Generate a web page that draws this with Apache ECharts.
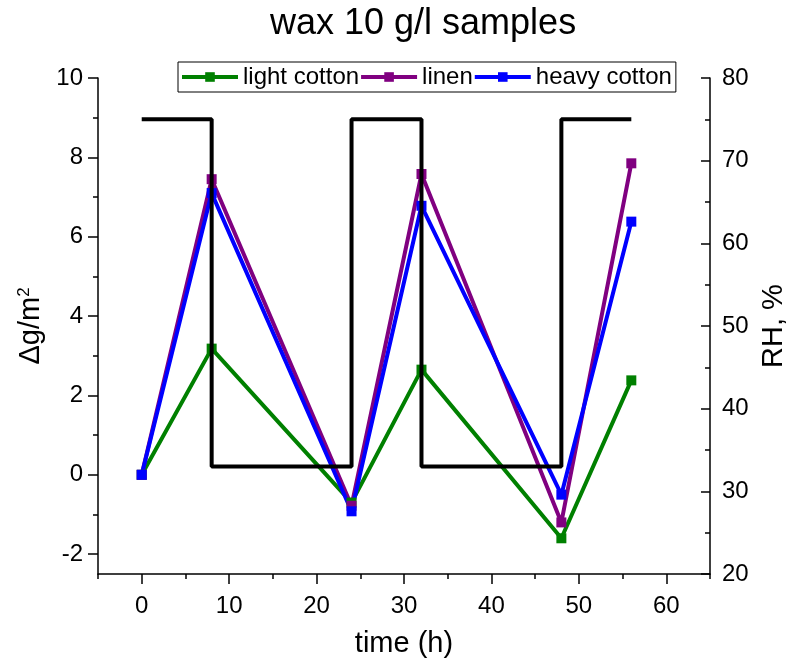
<!DOCTYPE html>
<html><head><meta charset="utf-8">
<script src="https://cdn.jsdelivr.net/npm/echarts@6/dist/echarts.min.js"></script>
<style>html,body{margin:0;padding:0;background:#fff}#c{width:788px;height:664px}</style>
</head><body><div id="c"></div>
<script>
const times = [0, 8, 24, 32, 48, 56];
const lightCotton = [0, 3.18, -0.7, 2.65, -1.6, 2.38];
const linen = [0, 7.45, -0.78, 7.58, -1.2, 7.85];
const heavyCotton = [0, 7.1, -0.92, 6.78, -0.5, 6.38];
const rhTimes = [0, 8, 24, 32, 48, 56];
const rhValues = [75, 33, 75, 33, 75, 75];
const xMajorTicks = [0, 10, 20, 30, 40, 50, 60];
const xMinorTicks = [-5, 5, 15, 25, 35, 45, 55, 65];
const yLeftMajor = [-2, 0, 2, 4, 6, 8, 10];
const yLeftMinor = [-1, 1, 3, 5, 7, 9];

const FONT = 'Liberation Sans, Arial, sans-serif';
const pair = (xs, ys) => xs.map((x, i) => [x, ys[i]]);
const chart = echarts.init(document.getElementById('c'));
const axisLine = { show: true, onZero: false, lineStyle: { color: '#000', width: 1.5 } };
const noLine = { show: false, onZero: false };
const tickStyle = { color: '#000', width: 1.5 };
const lineSeries = (name, data, color) => ({
  name, type: 'line', data: pair(times, data), xAxisIndex: 0, yAxisIndex: 0,
  symbol: 'rect', symbolSize: 10,
  lineStyle: { color, width: 4 }, itemStyle: { color },
  animation: false
});
chart.setOption({
  backgroundColor: '#fff',
  textStyle: { fontFamily: FONT },
  title: {
    text: 'wax 10 g/l samples', left: 270, top: 6, padding: 0,
    textStyle: { fontFamily: FONT, fontSize: 36, fontWeight: 'normal', color: '#000' }
  },
  legend: {
    data: ['light cotton', 'linen', 'heavy cotton'],
    left: 178, top: 62, itemWidth: 56, itemHeight: 12, itemGap: 0,
    lineStyle: { width: 4 },
    borderColor: '#000', borderWidth: 1, padding: [3, 4, 3, 2],
    textStyle: { fontFamily: FONT, fontSize: 24, color: '#000' }
  },
  grid: { left: 98, right: 78, top: 78, bottom: 90, outerBoundsMode: 'none', containLabel: false },
  xAxis: [
    {
      type: 'value', position: 'bottom', min: -5, max: 65,
      name: 'time (h)', nameLocation: 'middle', nameGap: 55,
      nameTextStyle: { fontFamily: FONT, fontSize: 29, color: '#000' },
      axisLine, splitLine: { show: false },
      axisTick: { show: true, length: 10, lineStyle: tickStyle, customValues: xMajorTicks },
      axisLabel: { customValues: xMajorTicks, margin: 20, fontFamily: FONT, fontSize: 24, color: '#000' }
    },
    {
      type: 'value', position: 'bottom', min: -5, max: 65,
      axisLine: noLine, splitLine: { show: false },
      axisTick: { show: true, length: 5, lineStyle: tickStyle, customValues: xMinorTicks },
      axisLabel: { show: false }
    }
  ],
  yAxis: [
    {
      type: 'value', position: 'left', min: -2.5, max: 10,
      name: 'Δg/m{sup|2}', nameLocation: 'middle', nameGap: 46, nameRotate: 90,
      nameTextStyle: { fontFamily: FONT, fontSize: 29, color: '#000',
        rich: { sup: { fontFamily: FONT, fontSize: 17, color: '#000', verticalAlign: 'top', padding: [0, 0, 14, 0] } } },
      axisLine, splitLine: { show: false },
      axisTick: { show: true, length: 10, lineStyle: tickStyle, customValues: yLeftMajor },
      axisLabel: { customValues: yLeftMajor, margin: 15, fontFamily: FONT, fontSize: 24, color: '#000' }
    },
    {
      type: 'value', position: 'right', min: 20, max: 80, interval: 10,
      name: 'RH, %', nameLocation: 'middle', nameGap: 49, nameRotate: 90,
      nameTextStyle: { fontFamily: FONT, fontSize: 29, color: '#000' },
      axisLine, splitLine: { show: false },
      axisTick: { show: true, inside: true, length: 9, lineStyle: tickStyle },
      minorTick: { show: true, splitNumber: 2, length: 5, lineStyle: tickStyle },
      minorSplitLine: { show: false },
      axisLabel: { margin: 12, fontFamily: FONT, fontSize: 24, color: '#000' }
    },
    {
      type: 'value', position: 'left', min: -2.5, max: 10,
      axisLine: noLine, splitLine: { show: false },
      axisTick: { show: true, length: 5, lineStyle: tickStyle, customValues: yLeftMinor },
      axisLabel: { show: false }
    }
  ],
  series: [
    lineSeries('light cotton', lightCotton, '#008000'),
    lineSeries('linen', linen, '#800080'),
    lineSeries('heavy cotton', heavyCotton, '#0000ff'),
    {
      name: 'RH', type: 'line', step: 'end', data: pair(rhTimes, rhValues),
      xAxisIndex: 0, yAxisIndex: 1, showSymbol: false, symbol: 'none', z: 5,
      lineStyle: { color: '#000', width: 4 }, animation: false
    }
  ]
});
</script></body></html>
